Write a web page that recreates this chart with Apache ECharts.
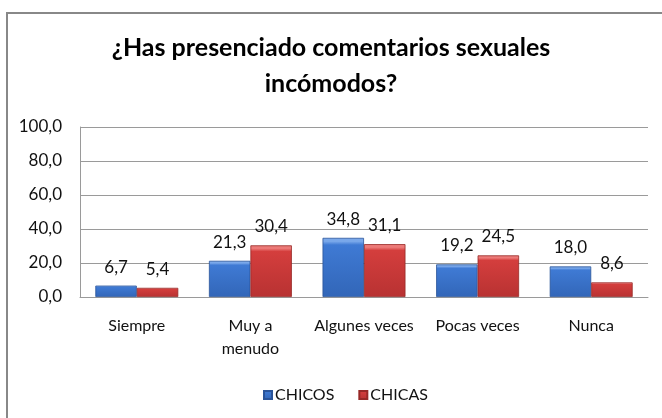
<!DOCTYPE html>
<html>
<head>
<meta charset="utf-8">
<script src="https://cdn.jsdelivr.net/npm/echarts@6/dist/echarts.min.js"></script>
<style>
  html, body { margin: 0; padding: 0; background: #fff; }
  #chart { width: 662px; height: 418px; }
</style>
</head>
<body>
<div id="chart"></div>
<script>
// datos de la encuesta
const categorias = ['Siempre', 'Muy a\nmenudo', 'Algunes veces', 'Pocas veces', 'Nunca'];
const chicos = [6.7, 21.3, 34.8, 19.2, 18.0];
const chicas = [5.4, 30.4, 31.1, 24.5, 8.6];
const ticksY = [0, 20, 40, 60, 80, 100];

const fuente = 'Lato, "Open Sans", sans-serif';

function fmt(v) {
    return v.toFixed(1).replace('.', ',');
}

// relleno con un pequeño bisel claro arriba
function degradado(claro, oscuro) {
    return new echarts.graphic.LinearGradient(0, 0, 0, 1, [
        { offset: 0, color: claro },
        { offset: 0.06, color: claro },
        { offset: 0.12, color: oscuro[0] },
        { offset: 1, color: oscuro[1] }
    ]);
}

const chart = echarts.init(document.getElementById('chart'));

const etiqueta = {
    show: true,
    position: 'top',
    distance: 10,
    fontFamily: fuente,
    fontSize: 17,
    color: '#111',
    formatter: p => fmt(p.value)
};

chart.setOption({
    animation: false,
    textStyle: { fontFamily: fuente },
    graphic: [
        { type: 'line', shape: { x1: 7, y1: 13, x2: 7, y2: 418 }, style: { stroke: '#888', lineWidth: 2 } },
        { type: 'line', shape: { x1: 6, y1: 13, x2: 662, y2: 13 }, style: { stroke: '#888', lineWidth: 2 } }
    ],
    title: {
        text: '¿Has presenciado comentarios sexuales\nincómodos?',
        left: 'center',
        top: 25,
        textStyle: { fontFamily: fuente, fontSize: 25, fontWeight: 'bold', color: '#000', lineHeight: 36 }
    },
    legend: {
        bottom: 10,
        left: 258,
        itemWidth: 8,
        itemHeight: 8,
        itemGap: 24,
        icon: 'rect',
        textStyle: { fontFamily: fuente, fontSize: 16, color: '#111', padding: [0, 0, 0, -2] },
        data: ['CHICOS', 'CHICAS']
    },
    grid: { left: 80, right: 14, top: 127, bottom: 121, containLabel: false },
    xAxis: {
        type: 'category',
        data: categorias,
        axisLine: { lineStyle: { color: '#9a9a9a' } },
        axisTick: { show: false },
        axisLabel: { interval: 0, fontFamily: fuente, fontSize: 16, color: '#111', margin: 17, lineHeight: 23 }
    },
    yAxis: {
        type: 'value',
        min: ticksY[0],
        max: ticksY[ticksY.length - 1],
        interval: 20,
        axisLine: { show: true, lineStyle: { color: '#9a9a9a' } },
        axisTick: { show: false },
        splitLine: { lineStyle: { color: '#9a9a9a' } },
        axisLabel: { fontFamily: fuente, fontSize: 17, color: '#111', margin: 18, formatter: v => fmt(v) }
    },
    series: [
        {
            name: 'CHICOS',
            type: 'bar',
            data: chicos,
            barGap: '0%',
            barCategoryGap: '27%',
            itemStyle: { color: degradado('#7aa8ea', ['#3f7ad4', '#3266b8']), borderColor: '#2a5499', borderWidth: 0.8 },
            label: etiqueta
        },
        {
            name: 'CHICAS',
            type: 'bar',
            data: chicas,
            itemStyle: { color: degradado('#ec7a78', ['#d43e3d', '#b83232']), borderColor: '#972826', borderWidth: 0.8 },
            label: etiqueta
        }
    ]
});
</script>
</body>
</html>
